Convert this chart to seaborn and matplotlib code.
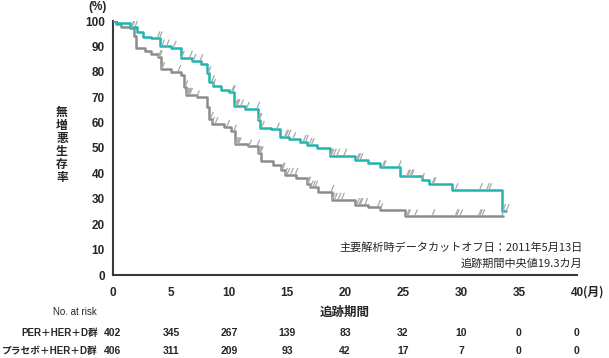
import numpy as np
import pandas as pd
import matplotlib
matplotlib.use("Agg")
import matplotlib.pyplot as plt
import matplotlib.transforms as mtransforms
from matplotlib.path import Path
import seaborn as sns

# ── Data ──────────────────────────────────────────────────────────────────────
# PER + HER + D arm: step times (months) and PFS (%)
per_t = [0, 0.3, 1.5, 2.1, 2.6, 3.3, 4.05, 5.0, 5.9, 6.8, 7.6, 8.1, 8.3, 8.6, 9.3,
         10.0, 10.4, 11.4, 12.5, 12.7, 13.6, 14.4, 15.2, 16.1, 16.7, 17.6, 18.7,
         20.9, 22.0, 23.0, 24.7, 26.6, 27.2, 29.2, 33.5, 33.9]
per_s = [100, 99.2, 97.8, 95.5, 93.8, 93.2, 90.0, 89.5, 85.6, 84.3, 83.2, 79.5, 76.0,
         74.5, 73.0, 72.0, 66.5, 65.5, 61.0, 58.0, 57.3, 54.5, 53.5, 52.5, 51.2, 50.0,
         47.0, 45.3, 44.0, 42.4, 38.8, 37.4, 35.8, 33.5, 25.3, 25.3]
per_cens = [0.2, 1.6, 1.9, 3.8, 4.0, 4.2, 4.6, 5.2, 5.9, 6.6, 6.9, 7.5, 8.2, 8.5, 8.6,
            10.2, 10.3, 10.5, 10.6, 10.7, 11.0, 11.5, 12.4, 12.5, 12.6, 12.8, 14.1,
            14.8, 14.9, 15.1, 15.5, 16.4, 16.6, 16.9, 17.1, 18.7, 18.8, 19.0, 19.3,
            19.9, 21.0, 21.1, 21.3, 23.2, 23.3, 24.6, 25.3, 25.4, 25.6, 25.7, 26.6,
            27.5, 27.6, 29.5, 31.6, 32.2, 32.4, 33.6, 33.9]

# Placebo + HER + D arm
pla_t = [0, 0.3, 0.7, 1.5, 1.8, 2.0, 2.8, 3.3, 3.9, 4.1, 5.0, 5.9, 6.1, 6.3, 7.2, 8.1,
         8.3, 8.5, 9.6, 10.2, 10.5, 11.6, 12.5, 12.8, 13.8, 14.5, 14.8, 15.8, 16.7,
         17.0, 17.7, 18.9, 20.9, 22.0, 23.0, 25.2, 33.6]
pla_s = [100, 99.0, 97.8, 97.2, 94.0, 89.5, 88.0, 87.0, 85.8, 81.0, 80.0, 78.8, 74.0,
         71.0, 70.0, 66.0, 61.5, 59.5, 58.3, 56.5, 51.5, 50.6, 48.0, 44.8, 43.5, 41.5,
         39.5, 38.3, 36.0, 34.5, 32.8, 29.7, 27.6, 26.8, 25.6, 23.2, 23.2]
pla_cens = [1.6, 3.9, 4.0, 4.1, 4.2, 5.6, 6.2, 6.3, 6.4, 6.5, 6.6, 7.2, 8.4, 8.5, 8.8,
            9.8, 10.4, 10.5, 10.6, 10.7, 10.8, 11.7, 12.4, 12.5, 12.6, 12.7, 14.5,
            14.6, 14.8, 15.0, 15.3, 15.7, 16.7, 16.8, 17.0, 17.2, 17.4, 18.8, 18.9,
            19.1, 19.4, 19.7, 21.0, 21.2, 21.3, 21.7, 22.8, 23.0, 25.3, 25.4, 26.0,
            27.5, 29.5, 29.6, 29.9, 31.5, 31.6, 31.8, 33.5]

# Numbers at risk
risk_times = [0, 5, 10, 15, 20, 25, 30, 35, 40]
risk_per = [402, 345, 267, 139, 83, 32, 10, 0, 0]
risk_pla = [406, 311, 209, 93, 42, 17, 7, 0, 0]
arm_labels = ["PER＋HER＋D群", "プラセボ＋HER＋D群"]

x_ticks = [0, 5, 10, 15, 20, 25, 30, 35, 40]
y_ticks = [0, 10, 20, 30, 40, 50, 60, 70, 80, 90, 100]

TEAL = "#1db5ae"
GREY = "#8c8c8c"
TICK = "#a8a8a8"
AXIS = "#3a3a3a"

sns.set_theme(style="white")
plt.rcParams["font.family"] = ["Liberation Sans", "Noto Sans CJK JP", "DejaVu Sans"]
JP = ["Noto Sans CJK JP", "DejaVu Sans"]


def km_at(times, surv, q):
    idx = np.searchsorted(np.asarray(times), np.asarray(q), side="right") - 1
    return np.asarray(surv)[np.clip(idx, 0, len(surv) - 1)]


fig = plt.figure(figsize=(6.09, 3.58), dpi=100)
ax = fig.add_axes([113 / 609, 1 - 275 / 358, 464 / 609, 254 / 358])

# ── KM curves ─────────────────────────────────────────────────────────────────
sns.lineplot(x=pla_t, y=pla_s, drawstyle="steps-post", color=GREY, lw=1.8,
             estimator=None, ax=ax, zorder=2)
sns.lineplot(x=per_t, y=per_s, drawstyle="steps-post", color=TEAL, lw=1.8,
             estimator=None, ax=ax, zorder=3)

# censor marks — slanted strokes rising from the curve
cens_marker = Path([(0, 0), (0.42, 1)], [Path.MOVETO, Path.LINETO])
for ct, t, s in [(pla_cens, pla_t, pla_s), (per_cens, per_t, per_s)]:
    sns.scatterplot(x=ct, y=km_at(t, s, ct), marker=cens_marker, s=95,
                    facecolor="none", edgecolor=TICK, linewidth=0.9, ax=ax, zorder=4)

# ── Axes styling ──────────────────────────────────────────────────────────────
ax.set_xlim(0, 40)
ax.set_ylim(0, 100)
ax.set_xticks(x_ticks)
ax.set_yticks(y_ticks)
ax.set_xticklabels([str(v) for v in x_ticks], fontsize=8.5, fontweight="bold")
ax.set_yticklabels([str(v) for v in y_ticks], fontsize=8.5, fontweight="bold")
ax.tick_params(axis="x", direction="in", length=5, width=1.2, color=AXIS, pad=9)
ax.tick_params(axis="y", direction="out", length=4, width=1.2, color=AXIS, pad=2)
for side in ["top", "right"]:
    ax.spines[side].set_visible(False)
for side in ["left", "bottom"]:
    ax.spines[side].set_color(AXIS)
    ax.spines[side].set_linewidth(1.5)
ax.set_xlabel("")
ax.set_ylabel("")

# unit labels
fig.text(107 / 609, 1 - 7 / 358, "(%)", ha="right", va="center", fontsize=8.5,
         fontweight="bold")
ax.annotate("(月)", xy=(40, 0), xycoords="data", xytext=(4.5, -12.5),
            textcoords="offset points", ha="left", va="center", fontsize=8.5,
            fontweight="bold", family=JP)
fig.text(62 / 609, 1 - 145 / 358, "\n".join("無増悪生存率"), ha="center", va="center",
         fontsize=8.5, fontweight="bold", family=JP, linespacing=1.0)

# data cut-off note
ax.text(40.5, 11.0, "主要解析時データカットオフ日：2011年5月13日", ha="right",
        va="center", fontsize=8, family=JP)
ax.text(40.5, 4.3, "追跡期間中央値19.3カ月", ha="right", va="center", fontsize=8,
        family=JP)

# ── Risk table ────────────────────────────────────────────────────────────────
tr = mtransforms.blended_transform_factory(ax.transData, fig.transFigure)
row_y = [1 - 312 / 358, 1 - 333 / 358, 1 - 351 / 358]
ax.text(20, row_y[0], "追跡期間", transform=tr, ha="center", va="center",
        fontsize=9, fontweight="bold", family=JP)
fig.text(97 / 609, row_y[0], "No. at risk", ha="right", va="center", fontsize=7)
for lab, vals, y in zip(arm_labels, [risk_per, risk_pla], row_y[1:]):
    fig.text(98 / 609, y, lab, ha="right", va="center", fontsize=7,
             fontweight="bold", family=["Liberation Sans", "Noto Sans CJK JP"])
    for t, v in zip(risk_times, vals):
        ax.text(t, y, str(v), transform=tr, ha="center", va="center",
                fontsize=7.5, fontweight="bold")

fig.savefig("out.png", dpi=100)
